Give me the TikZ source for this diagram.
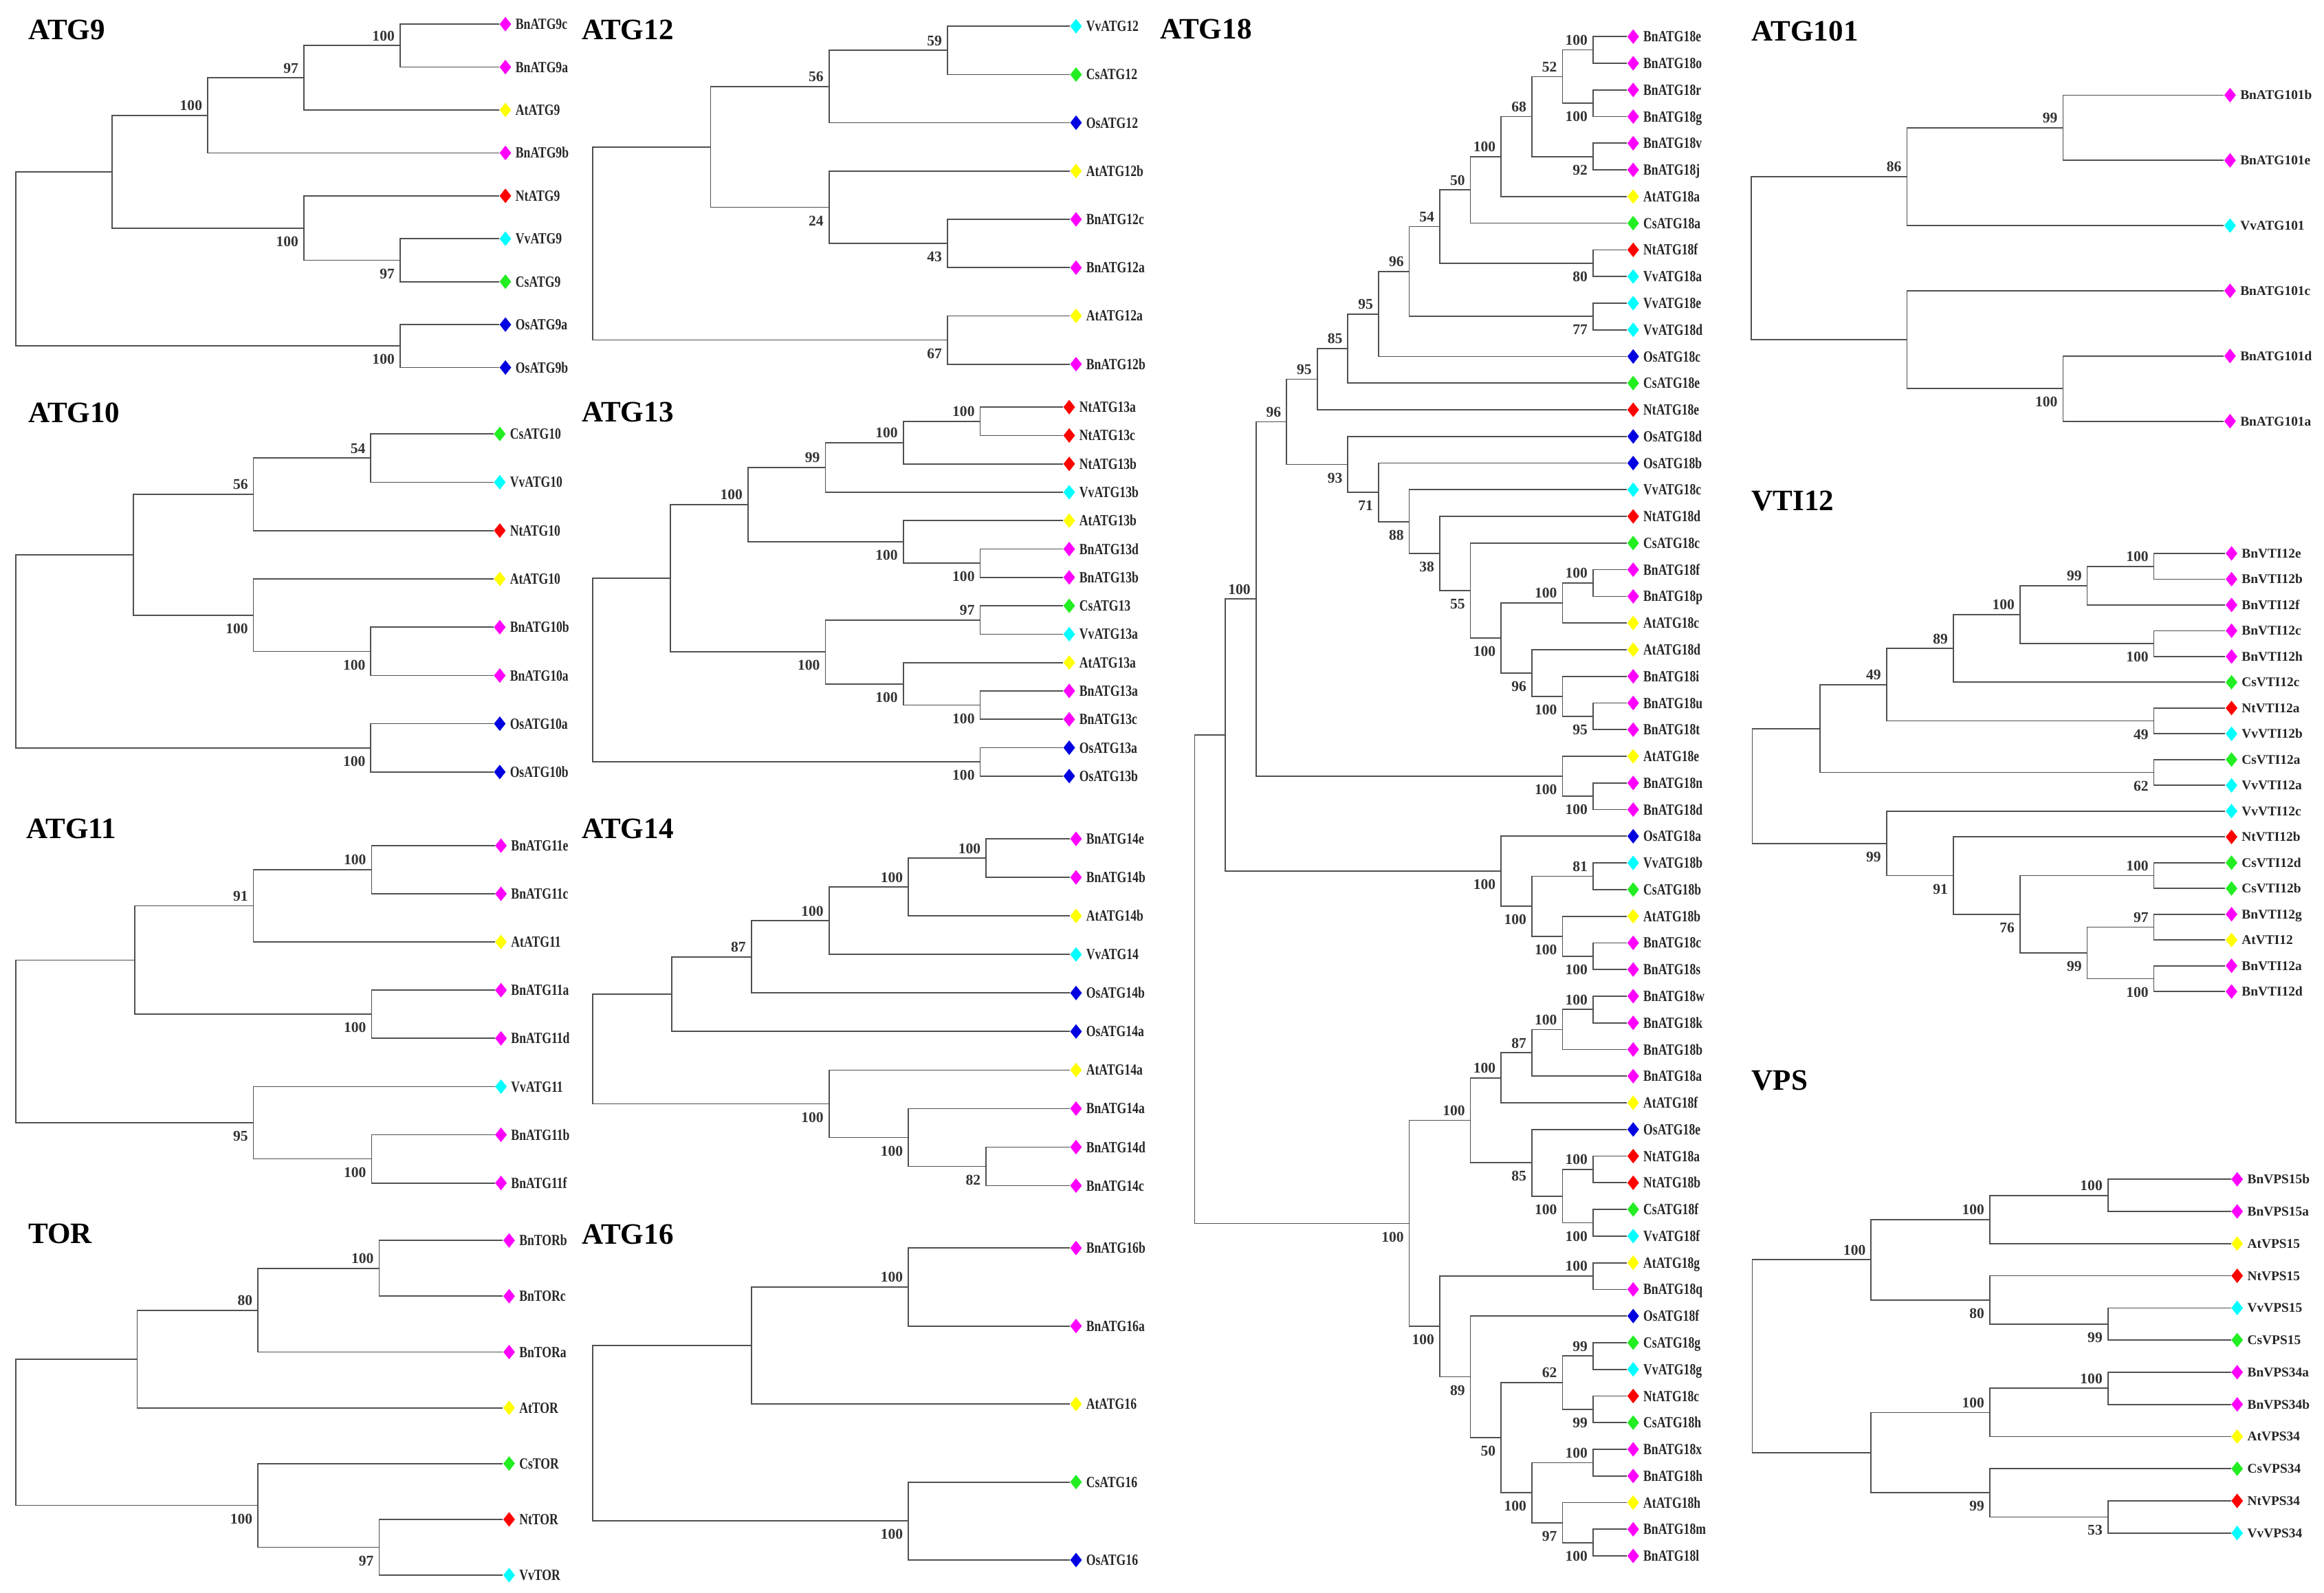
\documentclass[tikz,border=0pt]{standalone}
\usepackage{fontspec}
\usepackage{graphicx}
\setmainfont{Liberation Serif}
\usetikzlibrary{calc,shapes.geometric}
\definecolor{bn}{HTML}{FF00FF}
\definecolor{at}{HTML}{FFFF00}
\definecolor{nt}{HTML}{FF0000}
\definecolor{vv}{HTML}{00FFFF}
\definecolor{cs}{HTML}{22EE22}
\definecolor{os}{HTML}{0000E0}
\definecolor{ln}{HTML}{505050}
\tikzset{
  br/.style={draw=ln, line width=0.8pt},
  dia/.style={diamond, inner sep=0pt, minimum width=8pt, minimum height=10pt, draw=none},
  lab/.style={inner sep=1.5pt, anchor=west, xshift=1pt, text height=7pt, text depth=0pt, text=black!85, font=\fontsize{10.5}{12}\selectfont\bfseries},
  labr/.style={inner sep=1.5pt, anchor=west, xshift=1pt, text height=6pt, text depth=0pt, text=black!85, font=\fontsize{9}{11}\selectfont\bfseries},
  bsa/.style={anchor=south east, inner sep=0pt, xshift=-3.5pt, yshift=3pt, text=black!80, font=\fontsize{10}{11}\selectfont\bfseries},
  bsb/.style={anchor=north east, inner sep=0pt, xshift=-3.5pt, yshift=-5.5pt, text=black!80, font=\fontsize{10}{11}\selectfont\bfseries},
  ttl/.style={anchor=west, inner sep=0pt, font=\fontsize{20}{22}\selectfont\bfseries},
}
% leaf (left/middle columns): name, x, y, colour, text
\newcommand\lf[5]{\coordinate (#1) at (#2,{#3});
  \node[dia,fill=#4,anchor=west] (#1d) at (#1) {};
  \node[lab] (#1t) at (#1d.east) {\scalebox{0.78}[1]{#5}};}
% leaf (right column)
\newcommand\lr[5]{\coordinate (#1) at (#2,{#3});
  \node[dia,fill=#4,anchor=west] (#1d) at (#1) {};
  \node[labr] (#1t) at (#1d.east) {#5};}
% joint: name, x, child1, child2, bootstrap, a/b
\newcommand\jn[6]{\path let \p1=(#3), \p2=(#4) in (#2pt,{(\y1+\y2)/2}) coordinate (#1);
  \draw[br] (#3) -| (#1) |- (#4);
  \node[bs#6] (#1n) at (#1) {#5};}
% root joint without label
\newcommand\rt[4]{\path let \p1=(#3), \p2=(#4) in (#2pt,{(\y1+\y2)/2}) coordinate (#1);
  \draw[br] (#3) -| (#1) |- (#4);}
\begin{document}
\begin{tikzpicture}[x=1pt,y=-1pt]
\useasboundingbox (0,0) rectangle (1568,1074.4);
%================ ATG9
\node[ttl] (tA9) at (18.9,20) {ATG9};
\lf{a1}{336.8}{16.3}{bn}{BnATG9c}
\lf{a2}{336.8}{45.26}{bn}{BnATG9a}
\lf{a3}{336.8}{74.22}{at}{AtATG9}
\lf{a4}{336.8}{103.18}{bn}{BnATG9b}
\lf{a5}{336.8}{132.14}{nt}{NtATG9}
\lf{a6}{336.8}{161.1}{vv}{VvATG9}
\lf{a7}{336.8}{190.06}{cs}{CsATG9}
\lf{a8}{336.8}{219.02}{os}{OsATG9a}
\lf{a9}{336.8}{247.98}{os}{OsATG9b}
\jn{aD}{269.9}{a1}{a2}{100}{a}
\jn{aC}{205}{aD}{a3}{97}{a}
\jn{aB}{140.1}{aC}{a4}{100}{a}
\jn{aG}{269.9}{a6}{a7}{97}{b}
\jn{aF}{205}{a5}{aG}{100}{b}
\rt{aA}{75.5}{aB}{aF}
\jn{aE}{269.9}{a8}{a9}{100}{b}
\rt{aR}{10.6}{aA}{aE}
%================ ATG10
\node[ttl] (tA10) at (18.9,278.6) {ATG10};
\lf{b1}{333}{292.8}{cs}{CsATG10}
\lf{b2}{333}{325.4}{vv}{VvATG10}
\lf{b3}{333}{358.0}{nt}{NtATG10}
\lf{b4}{333}{390.6}{at}{AtATG10}
\lf{b5}{333}{423.2}{bn}{BnATG10b}
\lf{b6}{333}{455.8}{bn}{BnATG10a}
\lf{b7}{333}{488.3}{os}{OsATG10a}
\lf{b8}{333}{520.9}{os}{OsATG10b}
\jn{bT}{250.2}{b1}{b2}{54}{a}
\jn{bR}{171}{bT}{b3}{56}{a}
\jn{bU}{250.2}{b5}{b6}{100}{b}
\jn{bS}{171}{b4}{bU}{100}{b}
\rt{bP}{90}{bR}{bS}
\jn{bQ}{250.2}{b7}{b8}{100}{b}
\rt{bX}{10.6}{bP}{bQ}
%================ ATG11
\node[ttl] (tA11) at (17.6,559) {ATG11};
\lf{c1}{333.8}{570.6}{bn}{BnATG11e}
\lf{c2}{333.8}{603.1}{bn}{BnATG11c}
\lf{c3}{333.8}{635.6}{at}{AtATG11}
\lf{c4}{333.8}{668.1}{bn}{BnATG11a}
\lf{c5}{333.8}{700.6}{bn}{BnATG11d}
\lf{c6}{333.8}{733.2}{vv}{VvATG11}
\lf{c7}{333.8}{765.7}{bn}{BnATG11b}
\lf{c8}{333.8}{798.2}{bn}{BnATG11f}
\jn{cT}{250.7}{c1}{c2}{100}{a}
\jn{cS}{171}{cT}{c3}{91}{a}
\jn{cU}{250.7}{c4}{c5}{100}{b}
\rt{cP}{91}{cS}{cU}
\jn{cR}{250.7}{c7}{c8}{100}{b}
\jn{cQ}{171}{c6}{cR}{95}{b}
\rt{cX}{10.6}{cP}{cQ}
%================ TOR
\node[ttl] (tTOR) at (18.9,832.3) {TOR};
\lf{d1}{339.3}{837.0}{bn}{BnTORb}
\lf{d2}{339.3}{874.6}{bn}{BnTORc}
\lf{d3}{339.3}{912.3}{bn}{BnTORa}
\lf{d4}{339.3}{949.9}{at}{AtTOR}
\lf{d5}{339.3}{987.5}{cs}{CsTOR}
\lf{d6}{339.3}{1025.2}{nt}{NtTOR}
\lf{d7}{339.3}{1062.8}{vv}{VvTOR}
\jn{dR}{255.8}{d1}{d2}{100}{a}
\jn{dQ}{174}{dR}{d3}{80}{a}
\rt{dP}{92.6}{dQ}{d4}
\jn{dT}{255.8}{d6}{d7}{97}{b}
\jn{dS}{174}{d5}{dT}{100}{b}
\rt{dX}{10.6}{dP}{dS}
%================ ATG12
\node[ttl] (tA12) at (392.4,20) {ATG12};
\lf{e1}{721.8}{17.7}{vv}{VvATG12}
\lf{e2}{721.8}{50.3}{cs}{CsATG12}
\lf{e3}{721.8}{82.8}{os}{OsATG12}
\lf{e4}{721.8}{115.4}{at}{AtATG12b}
\lf{e5}{721.8}{148.0}{bn}{BnATG12c}
\lf{e6}{721.8}{180.6}{bn}{BnATG12a}
\lf{e7}{721.8}{213.1}{at}{AtATG12a}
\lf{e8}{721.8}{245.7}{bn}{BnATG12b}
\jn{eR}{639.2}{e1}{e2}{59}{a}
\jn{eQ}{559.3}{eR}{e3}{56}{a}
\jn{eT}{639.2}{e5}{e6}{43}{b}
\jn{eS}{559.3}{e4}{eT}{24}{b}
\rt{eP}{479.4}{eQ}{eS}
\jn{eU}{639.2}{e7}{e8}{67}{b}
\rt{eX}{399.8}{eP}{eU}
%================ ATG13
\node[ttl] (tA13) at (392.4,278) {ATG13};
\lf{f1}{717.2}{274.7}{nt}{NtATG13a}
\lf{f2}{717.2}{293.85}{nt}{NtATG13c}
\lf{f3}{717.2}{313.0}{nt}{NtATG13b}
\lf{f4}{717.2}{332.15}{vv}{VvATG13b}
\lf{f5}{717.2}{351.3}{at}{AtATG13b}
\lf{f6}{717.2}{370.45}{bn}{BnATG13d}
\lf{f7}{717.2}{389.6}{bn}{BnATG13b}
\lf{f8}{717.2}{408.75}{cs}{CsATG13}
\lf{f9}{717.2}{427.9}{vv}{VvATG13a}
\lf{f10}{717.2}{447.05}{at}{AtATG13a}
\lf{f11}{717.2}{466.2}{bn}{BnATG13a}
\lf{f12}{717.2}{485.35}{bn}{BnATG13c}
\lf{f13}{717.2}{504.5}{os}{OsATG13a}
\lf{f14}{717.2}{523.65}{os}{OsATG13b}
\jn{fI}{661.3}{f1}{f2}{100}{a}
\jn{fH}{609.4}{fI}{f3}{100}{a}
\jn{fE}{556.9}{fH}{f4}{99}{a}
\jn{fG}{661.3}{f6}{f7}{100}{b}
\jn{fF}{609.4}{f5}{fG}{100}{b}
\jn{fC}{504.7}{fE}{fF}{100}{a}
\jn{fJ}{661.3}{f8}{f9}{97}{a}
\jn{fL}{661.3}{f11}{f12}{100}{b}
\jn{fK}{609.4}{f10}{fL}{100}{b}
\jn{fD}{556.9}{fJ}{fK}{100}{b}
\rt{fA}{452.3}{fC}{fD}
\jn{fB}{661.3}{f13}{f14}{100}{b}
\rt{fX}{399.8}{fA}{fB}
%================ ATG14
\node[ttl] (tA14) at (392.4,559) {ATG14};
\lf{g1}{721.8}{566}{bn}{BnATG14e}
\lf{g2}{721.8}{592}{bn}{BnATG14b}
\lf{g3}{721.8}{618}{at}{AtATG14b}
\lf{g4}{721.8}{644}{vv}{VvATG14}
\lf{g5}{721.8}{670}{os}{OsATG14b}
\lf{g6}{721.8}{696}{os}{OsATG14a}
\lf{g7}{721.8}{722}{at}{AtATG14a}
\lf{g8}{721.8}{748}{bn}{BnATG14a}
\lf{g9}{721.8}{774}{bn}{BnATG14d}
\lf{g10}{721.8}{800}{bn}{BnATG14c}
\jn{gF}{665.3}{g1}{g2}{100}{a}
\jn{gE}{612.9}{gF}{g3}{100}{a}
\jn{gD}{559.3}{gE}{g4}{100}{a}
\jn{gC}{506.9}{gD}{g5}{87}{a}
\rt{gA}{453.1}{gC}{g6}
\jn{gH}{665.3}{g9}{g10}{82}{b}
\jn{gG}{612.9}{g8}{gH}{100}{b}
\jn{gB}{559.3}{g7}{gG}{100}{b}
\rt{gX}{399.8}{gA}{gB}
%================ ATG16
\node[ttl] (tA16) at (392.4,832.7) {ATG16};
\lf{h1}{721.8}{842.1}{bn}{BnATG16b}
\lf{h2}{721.8}{894.7}{bn}{BnATG16a}
\lf{h3}{721.8}{947.3}{at}{AtATG16}
\lf{h4}{721.8}{1000.0}{cs}{CsATG16}
\lf{h5}{721.8}{1052.6}{os}{OsATG16}
\jn{hB}{612.9}{h1}{h2}{100}{a}
\rt{hA}{506.9}{hB}{h3}
\jn{hC}{612.9}{h4}{h5}{100}{b}
\rt{hX}{399.8}{hA}{hC}
%================ ATG18
\node[ttl] (tA18) at (782.5,19.5) {ATG18};
\foreach \nm/\cl [count=\i from 0] in {BnATG18e/bn,BnATG18o/bn,BnATG18r/bn,BnATG18g/bn,BnATG18v/bn,BnATG18j/bn,AtATG18a/at,CsATG18a/cs,NtATG18f/nt,VvATG18a/vv,VvATG18e/vv,VvATG18d/vv,OsATG18c/os,CsATG18e/cs,NtATG18e/nt,OsATG18d/os,OsATG18b/os,VvATG18c/vv,NtATG18d/nt,CsATG18c/cs,BnATG18f/bn,BnATG18p/bn,AtATG18c/at,AtATG18d/at,BnATG18i/bn,BnATG18u/bn,BnATG18t/bn,AtATG18e/at,BnATG18n/bn,BnATG18d/bn,OsATG18a/os,VvATG18b/vv,CsATG18b/cs,AtATG18b/at,BnATG18c/bn,BnATG18s/bn,BnATG18w/bn,BnATG18k/bn,BnATG18b/bn,BnATG18a/bn,AtATG18f/at,OsATG18e/os,NtATG18a/nt,NtATG18b/nt,CsATG18f/cs,VvATG18f/vv,AtATG18g/at,BnATG18q/bn,OsATG18f/os,CsATG18g/cs,VvATG18g/vv,NtATG18c/nt,CsATG18h/cs,BnATG18x/bn,BnATG18h/bn,AtATG18h/at,BnATG18m/bn,BnATG18l/bn}
  {\lf{k\i}{1097.7}{24.7+17.985*\i}{\cl}{\nm}}
\jn{kA1}{1074.8}{k0}{k1}{100}{a}
\jn{kA2}{1074.8}{k2}{k3}{100}{b}
\jn{kA3}{1054.2}{kA1}{kA2}{52}{a}
\jn{kA4}{1074.8}{k4}{k5}{92}{b}
\jn{kA5}{1033.5}{kA3}{kA4}{68}{a}
\jn{kA6}{1012.8}{kA5}{k6}{100}{a}
\jn{kA7}{992.1}{kA6}{k7}{50}{a}
\jn{kA8}{1074.8}{k8}{k9}{80}{b}
\jn{kA9}{971.4}{kA7}{kA8}{54}{a}
\jn{kA10}{1074.8}{k10}{k11}{77}{b}
\jn{kA11}{950.8}{kA9}{kA10}{96}{a}
\jn{kA12}{930.1}{kA11}{k12}{95}{a}
\jn{kA13}{909.4}{kA12}{k13}{85}{a}
\jn{kA14}{888.7}{kA13}{k14}{95}{a}
\jn{kB1}{1074.8}{k20}{k21}{100}{a}
\jn{kB2}{1054.2}{kB1}{k22}{100}{a}
\jn{kB3}{1074.8}{k25}{k26}{95}{b}
\jn{kB4}{1054.2}{k24}{kB3}{100}{b}
\jn{kB5}{1033.5}{k23}{kB4}{96}{b}
\jn{kB6}{1012.8}{kB2}{kB5}{100}{b}
\jn{kB7}{992.1}{k19}{kB6}{55}{b}
\jn{kB8}{971.4}{k18}{kB7}{38}{b}
\jn{kB9}{950.8}{k17}{kB8}{88}{b}
\jn{kB10}{930.1}{k16}{kB9}{71}{b}
\jn{kB11}{909.4}{k15}{kB10}{93}{b}
\jn{kC1}{868.0}{kA14}{kB11}{96}{a}
\jn{kC2}{1074.8}{k28}{k29}{100}{b}
\jn{kC3}{1054.2}{k27}{kC2}{100}{b}
\jn{kC4}{847.4}{kC1}{kC3}{100}{a}
\jn{kD1}{1074.8}{k34}{k35}{100}{b}
\jn{kD2}{1054.2}{k33}{kD1}{100}{b}
\jn{kD3}{1074.8}{k31}{k32}{81}{a}
\jn{kD4}{1033.5}{kD3}{kD2}{100}{b}
\jn{kD5}{1012.8}{k30}{kD4}{100}{b}
\rt{kD6}{826.7}{kC4}{kD5}
\jn{kE1}{1074.8}{k36}{k37}{100}{a}
\jn{kE2}{1054.2}{kE1}{k38}{100}{a}
\jn{kE3}{1033.5}{kE2}{k39}{87}{a}
\jn{kE4}{1012.8}{kE3}{k40}{100}{a}
\jn{kE5}{1074.8}{k42}{k43}{100}{a}
\jn{kE6}{1074.8}{k44}{k45}{100}{b}
\jn{kE7}{1054.2}{kE5}{kE6}{100}{b}
\jn{kE8}{1033.5}{k41}{kE7}{85}{b}
\jn{kE9}{992.1}{kE4}{kE8}{100}{a}
\jn{kF1}{1074.8}{k46}{k47}{100}{a}
\jn{kF2}{1074.8}{k49}{k50}{99}{a}
\jn{kF3}{1074.8}{k51}{k52}{99}{b}
\jn{kF4}{1054.2}{kF2}{kF3}{62}{a}
\jn{kF5}{1074.8}{k53}{k54}{100}{a}
\jn{kF6}{1074.8}{k56}{k57}{100}{b}
\jn{kF7}{1054.2}{k55}{kF6}{97}{b}
\jn{kF8}{1033.5}{kF5}{kF7}{100}{b}
\jn{kF9}{1012.8}{kF4}{kF8}{50}{b}
\jn{kF10}{992.1}{k48}{kF9}{89}{b}
\jn{kF11}{971.4}{kF1}{kF10}{100}{b}
\jn{kG}{950.8}{kE9}{kF11}{100}{b}
\rt{kR}{806}{kD6}{kG}
%================ ATG101
\node[ttl] (tA101) at (1181.7,21) {ATG101};
\lr{m1}{1500.4}{64.2}{bn}{BnATG101b}
\lr{m2}{1500.4}{108.2}{bn}{BnATG101e}
\lr{m3}{1500.4}{152.2}{vv}{VvATG101}
\lr{m4}{1500.4}{196.2}{bn}{BnATG101c}
\lr{m5}{1500.4}{240.2}{bn}{BnATG101d}
\lr{m6}{1500.4}{284.2}{bn}{BnATG101a}
\jn{mB}{1391.9}{m1}{m2}{99}{a}
\jn{mA}{1286.6}{mB}{m3}{86}{a}
\jn{mD}{1391.9}{m5}{m6}{100}{b}
\rt{mC}{1286.6}{m4}{mD}
\rt{mX}{1181.7}{mA}{mC}
%================ VTI12
\node[ttl] (tVTI) at (1181.7,338) {VTI12};
\foreach \nm/\cl [count=\i from 0] in {BnVTI12e/bn,BnVTI12b/bn,BnVTI12f/bn,BnVTI12c/bn,BnVTI12h/bn,CsVTI12c/cs,NtVTI12a/nt,VvVTI12b/vv,CsVTI12a/cs,VvVTI12a/vv,VvVTI12c/vv,NtVTI12b/nt,CsVTI12d/cs,CsVTI12b/cs,BnVTI12g/bn,AtVTI12/at,BnVTI12a/bn,BnVTI12d/bn}
  {\lr{n\i}{1501.4}{373.4+17.39*\i}{\cl}{\nm}}
\jn{nA}{1453.2}{n0}{n1}{100}{a}
\jn{nB}{1408.2}{nA}{n2}{99}{a}
\jn{nC}{1453.2}{n3}{n4}{100}{b}
\jn{nD}{1362.9}{nB}{nC}{100}{a}
\jn{nE}{1317.9}{nD}{n5}{89}{a}
\jn{nF}{1453.2}{n6}{n7}{49}{b}
\jn{nG}{1272.8}{nE}{nF}{49}{a}
\jn{nH}{1453.2}{n8}{n9}{62}{b}
\rt{nI}{1228}{nG}{nH}
\jn{nJ}{1453.2}{n12}{n13}{100}{a}
\jn{nK}{1453.2}{n14}{n15}{97}{a}
\jn{nL}{1453.2}{n16}{n17}{100}{b}
\jn{nM}{1408.2}{nK}{nL}{99}{b}
\jn{nN}{1362.9}{nJ}{nM}{76}{b}
\jn{nO}{1317.9}{n11}{nN}{91}{b}
\jn{nP}{1272.8}{n10}{nO}{99}{b}
\rt{nX}{1182.2}{nI}{nP}
%================ VPS
\node[ttl] (tVPS) at (1181.7,729) {VPS};
\lr{p1}{1505.2}{795.7}{bn}{BnVPS15b}
\lr{p2}{1505.2}{817.4}{bn}{BnVPS15a}
\lr{p3}{1505.2}{839.1}{at}{AtVPS15}
\lr{p4}{1505.2}{860.8}{nt}{NtVPS15}
\lr{p5}{1505.2}{882.5}{vv}{VvVPS15}
\lr{p6}{1505.2}{904.2}{cs}{CsVPS15}
\lr{p7}{1505.2}{925.9}{bn}{BnVPS34a}
\lr{p8}{1505.2}{947.6}{bn}{BnVPS34b}
\lr{p9}{1505.2}{969.3}{at}{AtVPS34}
\lr{p10}{1505.2}{991.0}{cs}{CsVPS34}
\lr{p11}{1505.2}{1012.7}{nt}{NtVPS34}
\lr{p12}{1505.2}{1034.4}{vv}{VvVPS34}
\jn{pD}{1422.2}{p1}{p2}{100}{a}
\jn{pC}{1342.5}{pD}{p3}{100}{a}
\jn{pF}{1422.2}{p5}{p6}{99}{b}
\jn{pE}{1342.5}{p4}{pF}{80}{b}
\jn{pA}{1262.4}{pC}{pE}{100}{a}
\jn{pH}{1422.2}{p7}{p8}{100}{a}
\jn{pG}{1342.5}{pH}{p9}{100}{a}
\jn{pJ}{1422.2}{p11}{p12}{53}{b}
\jn{pI}{1342.5}{p10}{pJ}{99}{b}
\rt{pB}{1262.4}{pG}{pI}
\rt{pX}{1182.2}{pA}{pB}
\end{tikzpicture}
\end{document}
